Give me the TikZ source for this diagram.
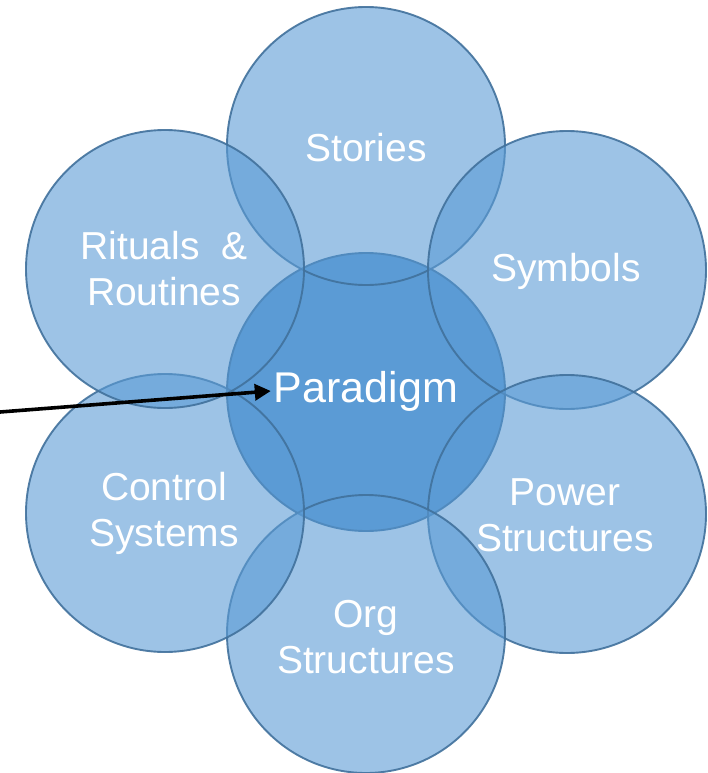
\documentclass[tikz,border=0pt]{standalone}
\usepackage{fontspec}
\setmainfont{Liberation Sans}
\usetikzlibrary{arrows.meta}
\definecolor{petal}{HTML}{5B9BD5}
\definecolor{rim}{HTML}{41719C}
\begin{document}
\begin{tikzpicture}[x=1pt,y=-1pt,
  core/.style={circle,minimum size=278pt,inner sep=0pt,fill=petal,draw=rim,line width=1.9pt},
  outer/.style={circle,minimum size=278pt,inner sep=0pt,fill=petal,fill opacity=0.6,draw=rim,draw opacity=0.9,line width=1.9pt},
  lbl/.style={text=white,align=center,font=\fontsize{39}{46}\selectfont,inner sep=0pt},
  biglbl/.style={text=white,font=\fontsize{43}{50}\selectfont,inner sep=3pt},
  pointer/.style={-{Triangle[length=16pt,width=16pt]},line width=3.6pt,black}]
\useasboundingbox (0,0) rectangle (707,773);
% centre circle first, petals laid over it
\node[core] (cParadigm) at (366,392) {};
\node[outer] (cStories)  at (366,146) {};
\node[outer] (cSymbols)  at (567,270) {};
\node[outer] (cPower)    at (567,514) {};
\node[outer] (cOrg)      at (366,634) {};
\node[outer] (cControl)  at (165,513) {};
\node[outer] (cRituals)  at (165,269) {};
% labels
\node[biglbl] (tParadigm) at (366,391) {Paradigm};
\node[lbl] (tStories)  at (366,148) {Stories};
\node[lbl] (tSymbols)  at (566,271) {Symbols};
\node[lbl] (tPower)    at (565,515) {Power\\Structures};
\node[lbl] (tOrg)      at (366,637) {Org\\Structures};
\node[lbl] (tControl)  at (164,513) {Control\\Systems};
\node[lbl] (tRituals)  at (164,269) {Rituals \ \&\\Routines};
% pointer from the left edge
\coordinate (src) at (0,412);
\draw[pointer] (src) -- (tParadigm.west);
\end{tikzpicture}
\end{document}
